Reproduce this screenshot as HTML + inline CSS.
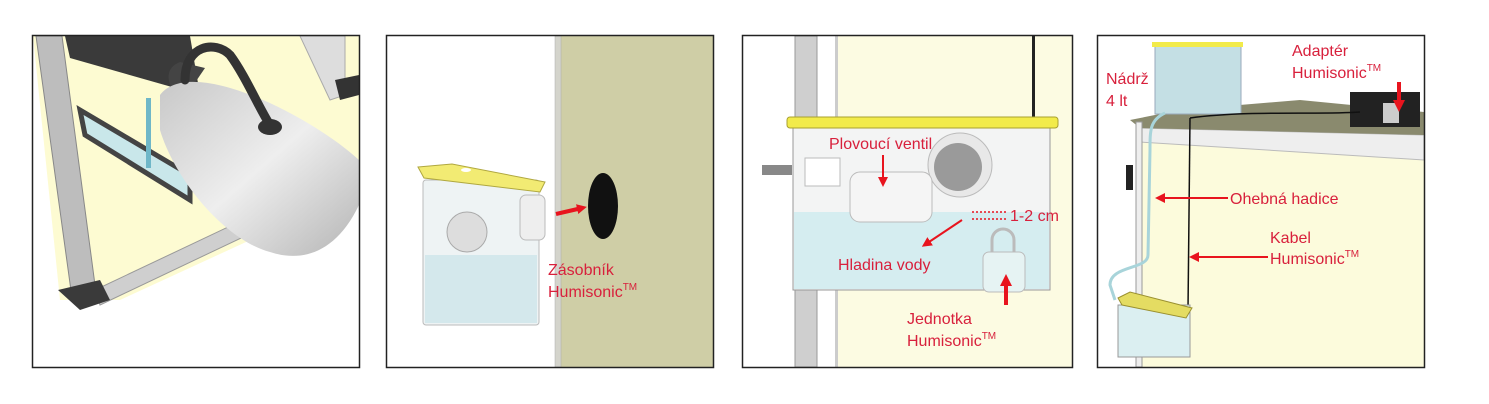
<!DOCTYPE html>
<html><head><meta charset="utf-8"><style>
html,body{margin:0;padding:0;background:#fff;width:1489px;height:404px;overflow:hidden}
svg{display:block}
text{font-family:"Liberation Sans",sans-serif;fill:#d8203c;font-size:16px}
</style></head><body>
<svg width="1489" height="404" viewBox="0 0 1489 404" xmlns="http://www.w3.org/2000/svg">
<defs>
<marker id="ah" markerUnits="userSpaceOnUse" markerWidth="10" markerHeight="10" refX="5" refY="5" orient="auto"><path d="M0,0 L10,5 L0,10 z" fill="#e8141e"/></marker>
<marker id="ahb" markerUnits="userSpaceOnUse" markerWidth="12" markerHeight="12" refX="6" refY="6" orient="auto"><path d="M0,0 L12,6 L0,12 z" fill="#e8141e"/></marker>
<linearGradient id="bot" x1="0" y1="0" x2="1" y2="1"><stop offset="0" stop-color="#c8c8c8"/><stop offset=".5" stop-color="#eeeeee"/><stop offset="1" stop-color="#b5b5b5"/></linearGradient>
<clipPath id="c1"><rect x="33" y="36" width="326" height="331"/></clipPath>
<clipPath id="c4"><rect x="1098" y="36" width="326" height="331"/></clipPath>
</defs>

<!-- Panel 1 -->
<g clip-path="url(#c1)">
<rect x="33" y="36" width="326" height="331" fill="#fff"/>
<polygon points="60,36 359,36 359,190 120,300 95,300" fill="#fdfbd2"/>
<polygon points="33,36 68,36 100,300 60,300" fill="#fdfbd2"/>
<polygon points="80,110 190,175 190,200 85,135" fill="#c9e7ea" stroke="#444" stroke-width="5"/>
<polygon points="65,36 190,36 200,95 70,58" fill="#3a3a3a"/>
<polygon points="95,290 359,165 359,182 100,305" fill="#cfcfcf" stroke="#999"/>
<polygon points="300,36 345,36 345,95 330,100" fill="#ddd" stroke="#aaa"/>
<polygon points="335,80 359,75 359,95 340,100" fill="#333"/>
<polygon points="36,36 62,36 95,285 72,298" fill="#bdbdbd" stroke="#888"/>
<polygon points="58,290 100,280 110,300 80,310" fill="#3a3a3a"/>
<rect x="146" y="98" width="5" height="70" fill="#6fb7c8"/>
<path d="M175,95 Q160,70 180,62 L205,68 L190,90 Z" fill="#444"/>
<path d="M160,95 C190,55 310,115 359,160 L359,205 C335,255 300,262 270,252 C225,240 175,180 160,130 Z" fill="url(#bot)"/>
<path d="M185,80 C185,45 215,40 230,55 C245,75 260,110 270,125" fill="none" stroke="#333" stroke-width="9" stroke-linecap="round"/>
<ellipse cx="270" cy="127" rx="12" ry="8" fill="#333"/>
</g>
<rect x="32.5" y="35.5" width="327" height="332" fill="none" stroke="#222" stroke-width="1.5"/>

<!-- Panel 2 -->
<rect x="386" y="36" width="327" height="331" fill="#fff"/>
<rect x="557" y="36" width="156" height="331" fill="#cfcea6"/>
<rect x="555" y="36" width="6" height="331" fill="#d4d4cc" stroke="#aaa" stroke-width=".5"/>
<ellipse cx="603" cy="206" rx="15" ry="33" fill="#111"/>
<rect x="423" y="180" width="116" height="145" rx="3" fill="#eef3f4" stroke="#bbb"/>
<rect x="425" y="255" width="112" height="68" fill="#d4e8ec"/>
<circle cx="467" cy="232" r="20" fill="#ddd" stroke="#aaa"/>
<rect x="520" y="195" width="25" height="45" rx="6" fill="#eee" stroke="#bbb"/>
<polygon points="418,167 452,164 545,182 540,192 424,178" fill="#f2eb73" stroke="#b0a840"/>
<ellipse cx="466" cy="170" rx="5" ry="2" fill="#fff"/>
<line x1="556" y1="214" x2="582" y2="208" stroke="#e8141e" stroke-width="4" marker-end="url(#ah)"/>
<text x="548" y="275">Zásobník</text>
<text x="548" y="297">Humisonic<tspan font-size="10" dy="-7">TM</tspan></text>
<rect x="386.5" y="35.5" width="327" height="332" fill="none" stroke="#222" stroke-width="1.5"/>

<!-- Panel 3 -->
<rect x="743" y="36" width="329" height="331" fill="#fff"/>
<rect x="838" y="36" width="234" height="331" fill="#fcfbe2"/>
<rect x="795" y="36" width="22" height="331" fill="#cfcfcf" stroke="#999"/>
<rect x="835" y="36" width="3" height="331" fill="#ccc"/>
<rect x="1032" y="36" width="3" height="85" fill="#222"/>
<rect x="793" y="128" width="257" height="162" fill="#f3f4f4" stroke="#999"/>
<rect x="794" y="212" width="255" height="77" fill="#d5edf0"/>
<circle cx="960" cy="165" r="32" fill="#e8e8e8" stroke="#bbb"/>
<circle cx="958" cy="167" r="24" fill="#9a9a9a"/>
<rect x="762" y="165" width="30" height="10" fill="#888"/>
<rect x="805" y="158" width="35" height="28" fill="#fff" stroke="#bbb"/>
<rect x="850" y="172" width="82" height="50" rx="10" fill="#f5f5f5" stroke="#bbb"/>
<rect x="983" y="252" width="42" height="40" rx="6" fill="#e6f3f3" stroke="#bbb"/>
<path d="M992,252 V240 A11,11 0 0 1 1014,240 V252" fill="none" stroke="#bbb" stroke-width="3"/>
<rect x="787" y="117" width="271" height="11" rx="3" fill="#f2eb4a" stroke="#a8a030"/>
<text x="829" y="149">Plovoucí ventil</text>
<line x1="883" y1="155" x2="883" y2="182" stroke="#e8141e" stroke-width="2" marker-end="url(#ah)"/>
<line x1="972" y1="212" x2="1008" y2="212" stroke="#e8141e" stroke-width="1.5" stroke-dasharray="2,2"/>
<line x1="972" y1="219" x2="1008" y2="219" stroke="#e8141e" stroke-width="1.5" stroke-dasharray="2,2"/>
<text x="1010" y="221">1-2 cm</text>
<line x1="962" y1="220" x2="926" y2="244" stroke="#e8141e" stroke-width="2" marker-end="url(#ah)"/>
<text x="838" y="270">Hladina vody</text>
<line x1="1006" y1="305" x2="1006" y2="280" stroke="#e8141e" stroke-width="4" marker-end="url(#ahb)"/>
<text x="907" y="324">Jednotka</text>
<text x="907" y="346">Humisonic<tspan font-size="10" dy="-7">TM</tspan></text>
<rect x="742.5" y="35.5" width="330" height="332" fill="none" stroke="#222" stroke-width="1.5"/>

<!-- Panel 4 -->
<g clip-path="url(#c4)">
<rect x="1098" y="36" width="326" height="331" fill="#fff"/>
<polygon points="1140,140 1424,150 1424,367 1140,367" fill="#fcfbdc"/>
<polygon points="1138,128 1424,135 1424,160 1140,142" fill="#eee" stroke="#bbb"/>
<polygon points="1130,120 1180,110 1300,100 1424,112 1424,135 1140,128" fill="#8a8a6e"/>
<rect x="1136" y="122" width="6" height="245" fill="#eee" stroke="#999"/>
<rect x="1126" y="165" width="7" height="25" fill="#222"/>
<rect x="1350" y="92" width="70" height="35" fill="#222"/>
<rect x="1383" y="103" width="16" height="20" fill="#ccc"/>
<rect x="1155" y="44" width="86" height="70" fill="#c4dfe4" stroke="#9ab"/>
<rect x="1152" y="42" width="91" height="5" fill="#f2eb4a"/>
<path d="M1165,113 C1150,120 1150,130 1150,150 L1148,255 C1148,270 1110,265 1110,285 L1115,300" fill="none" stroke="#a8d4da" stroke-width="3"/>
<path d="M1190,118 L1188,310" stroke="#111" stroke-width="1.5"/>
<path d="M1190,118 C1250,110 1320,115 1360,112" fill="none" stroke="#111" stroke-width="1.5"/>
<rect x="1118" y="305" width="72" height="52" fill="#dbeff1" stroke="#999"/>
<polygon points="1118,298 1130,292 1192,308 1186,318 1122,305" fill="#e4dc62" stroke="#9a9030"/>
</g>
<text x="1106" y="84">Nádrž</text>
<text x="1106" y="106">4 lt</text>
<text x="1292" y="56">Adaptér</text>
<text x="1292" y="78">Humisonic<tspan font-size="10" dy="-7">TM</tspan></text>
<line x1="1399" y1="82" x2="1399" y2="106" stroke="#e8141e" stroke-width="4" marker-end="url(#ahb)"/>
<line x1="1228" y1="198" x2="1160" y2="198" stroke="#e8141e" stroke-width="2" marker-end="url(#ah)"/>
<text x="1230" y="204">Ohebná hadice</text>
<line x1="1268" y1="257" x2="1194" y2="257" stroke="#e8141e" stroke-width="2" marker-end="url(#ah)"/>
<text x="1270" y="243">Kabel</text>
<text x="1270" y="264">Humisonic<tspan font-size="10" dy="-7">TM</tspan></text>
<rect x="1097.5" y="35.5" width="327" height="332" fill="none" stroke="#222" stroke-width="1.5"/>
</svg>
</body></html>
